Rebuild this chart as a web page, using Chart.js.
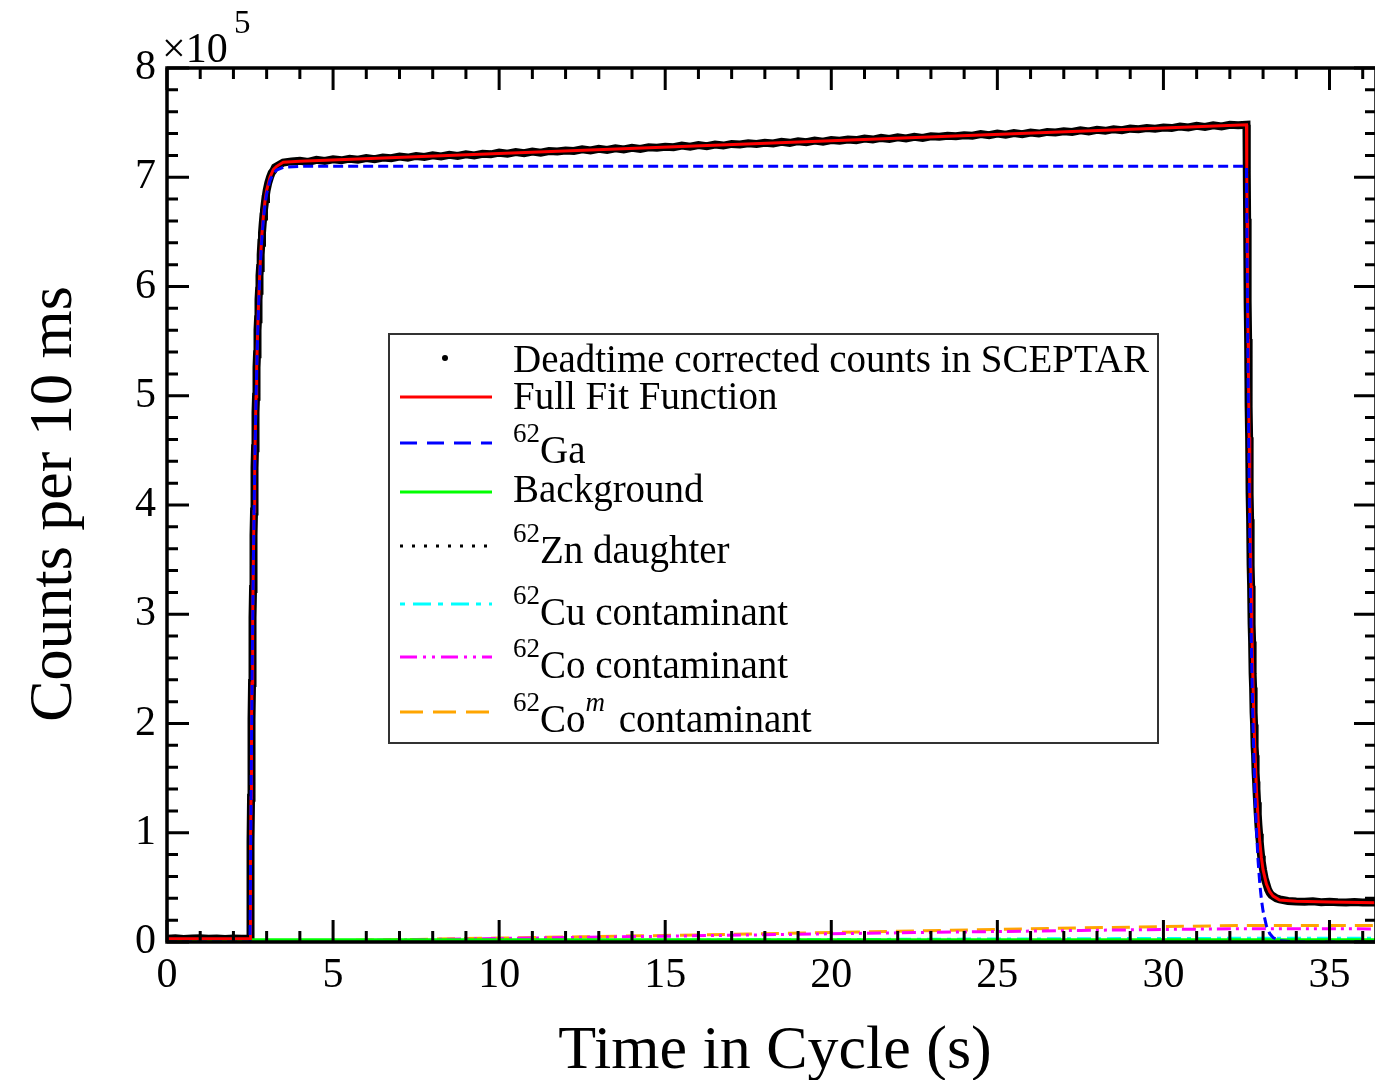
<!DOCTYPE html>
<html>
<head>
<meta charset="utf-8">
<script src="https://cdn.jsdelivr.net/npm/chart.js@4.4.0/dist/chart.umd.min.js"></script>
<style>
  html, body { margin: 0; padding: 0; background: #fff; overflow: hidden; }
  #wrap { position: relative; width: 1400px; height: 1080px; }
  canvas { display: block; }
</style>
</head>
<body>
<div id="wrap"><canvas id="decayChart" width="1400" height="1080"></canvas></div>
<script>
// counts per 10 ms, in units of 1e5

// measured data (deadtime corrected, SCEPTAR)
const preTime = [0, 0.25, 0.5, 0.75, 1, 1.25, 1.5, 1.75, 2, 2.25, 2.49];
const preCounts = [0.03, 0.034, 0.028, 0.031, 0.035, 0.029, 0.032, 0.027, 0.033, 0.03, 0.031];

const riseTime = [
  2.50, 2.51, 2.52, 2.53, 2.54, 2.55, 2.56, 2.57, 2.58, 2.59,
  2.60, 2.61, 2.62, 2.63, 2.64, 2.65, 2.66, 2.67, 2.68, 2.69,
  2.70, 2.71, 2.72, 2.73, 2.74, 2.75, 2.76, 2.77, 2.78, 2.79, 2.80,
  2.82, 2.84, 2.86, 2.88, 2.90, 2.92, 2.94, 2.96, 2.98, 3.00,
  3.05, 3.10, 3.15, 3.20
];
const riseCounts = [
  0.03, 0.49, 0.92, 1.32, 1.69, 2.04, 2.37, 2.68, 2.97, 3.23,
  3.49, 3.72, 3.94, 4.15, 4.34, 4.52, 4.69, 4.85, 4.99, 5.13,
  5.26, 5.38, 5.49, 5.60, 5.70, 5.79, 5.88, 5.96, 6.03, 6.10, 6.17,
  6.29, 6.40, 6.49, 6.57, 6.64, 6.70, 6.75, 6.80, 6.84, 6.88,
  6.95, 7.00, 7.04, 7.06
];

const plateauTime = [
  3.25, 3.5, 3.75,
  4, 4.25, 4.5, 4.75, 5, 5.25, 5.5, 5.75, 6, 6.25, 6.5, 6.75,
  7, 7.25, 7.5, 7.75, 8, 8.25, 8.5, 8.75, 9, 9.25, 9.5, 9.75,
  10, 10.25, 10.5, 10.75, 11, 11.25, 11.5, 11.75, 12, 12.25, 12.5, 12.75,
  13, 13.25, 13.5, 13.75, 14, 14.25, 14.5, 14.75, 15, 15.25, 15.5, 15.75,
  16, 16.25, 16.5, 16.75, 17, 17.25, 17.5, 17.75, 18, 18.25, 18.5, 18.75,
  19, 19.25, 19.5, 19.75, 20, 20.25, 20.5, 20.75, 21, 21.25, 21.5, 21.75,
  22, 22.25, 22.5, 22.75, 23, 23.25, 23.5, 23.75, 24, 24.25, 24.5, 24.75,
  25, 25.25, 25.5, 25.75, 26, 26.25, 26.5, 26.75, 27, 27.25, 27.5, 27.75,
  28, 28.25, 28.5, 28.75, 29, 29.25, 29.5, 29.75, 30, 30.25, 30.5, 30.75,
  31, 31.25, 31.5, 31.75, 32, 32.25, 32.5
];
const plateauCounts = [
  7.09, 7.135, 7.145,
  7.15, 7.14, 7.16, 7.15, 7.165, 7.155, 7.17, 7.16, 7.175, 7.165, 7.18, 7.175,
  7.19, 7.18, 7.195, 7.185, 7.20, 7.19, 7.205, 7.195, 7.21, 7.20, 7.215, 7.21,
  7.225, 7.215, 7.23, 7.22, 7.235, 7.225, 7.24, 7.235, 7.245, 7.24, 7.255, 7.245,
  7.26, 7.25, 7.265, 7.255, 7.27, 7.26, 7.275, 7.27, 7.28, 7.275, 7.29, 7.28,
  7.295, 7.285, 7.30, 7.29, 7.305, 7.30, 7.31, 7.305, 7.315, 7.31, 7.325, 7.315,
  7.33, 7.32, 7.335, 7.325, 7.34, 7.335, 7.345, 7.34, 7.355, 7.345, 7.36, 7.35,
  7.365, 7.355, 7.37, 7.36, 7.375, 7.37, 7.38, 7.375, 7.385, 7.38, 7.395, 7.385,
  7.40, 7.39, 7.405, 7.395, 7.41, 7.40, 7.415, 7.41, 7.42, 7.415, 7.43, 7.42,
  7.435, 7.425, 7.44, 7.43, 7.445, 7.44, 7.45, 7.445, 7.455, 7.45, 7.465, 7.455,
  7.47, 7.46, 7.475, 7.465, 7.48, 7.475, 7.48
];

const fallTime = [
  32.51, 32.52, 32.53, 32.54, 32.55, 32.56, 32.57, 32.58, 32.59, 32.60,
  32.61, 32.62, 32.63, 32.64, 32.65, 32.66, 32.67, 32.68, 32.69, 32.70,
  32.71, 32.72, 32.73, 32.74, 32.75, 32.76, 32.77, 32.78, 32.79, 32.80,
  32.82, 32.84, 32.86, 32.88, 32.90, 32.92, 32.94, 32.96, 32.98, 33.00,
  33.05, 33.10, 33.15, 33.20, 33.25, 33.30, 33.40, 33.50
];
const fallCounts = [
  7.04, 6.62, 6.23, 5.87, 5.52, 5.20, 4.90, 4.62, 4.35, 4.10,
  3.87, 3.65, 3.45, 3.26, 3.08, 2.91, 2.75, 2.60, 2.46, 2.33,
  2.21, 2.10, 1.99, 1.89, 1.79, 1.71, 1.62, 1.55, 1.47, 1.40,
  1.28, 1.17, 1.07, 0.99, 0.92, 0.85, 0.79, 0.74, 0.70, 0.66,
  0.58, 0.53, 0.48, 0.45, 0.43, 0.42, 0.40, 0.39
];

const tailTime = [33.75, 34, 34.25, 34.5, 34.75, 35, 35.25, 35.5, 35.75, 36, 36.25, 36.5];
const tailCounts = [0.375, 0.37, 0.368, 0.372, 0.365, 0.368, 0.364, 0.362, 0.366, 0.361, 0.363, 0.36];

// fit curves
const fitTime = [
  0, 2.5, 2.51, 2.52, 2.53, 2.54, 2.55, 2.56, 2.58, 2.6, 2.62, 2.64, 2.66, 2.68, 2.7,
  2.73, 2.76, 2.8, 2.85, 2.9, 2.95, 3.0, 3.1, 3.2, 3.3, 3.5, 4, 10, 20, 30, 32.5,
  32.51, 32.52, 32.53, 32.54, 32.55, 32.56, 32.58, 32.6, 32.62, 32.64, 32.66, 32.68, 32.7,
  32.73, 32.76, 32.8, 32.85, 32.9, 32.95, 33.0, 33.1, 33.2, 33.3, 33.5, 34, 35, 36.5
];
const fitFull = [
  0.03, 0.03, 0.49, 0.92, 1.32, 1.69, 2.04, 2.37, 2.97, 3.49, 3.94, 4.34, 4.69, 4.99, 5.26,
  5.60, 5.88, 6.17, 6.45, 6.64, 6.78, 6.88, 7.00, 7.07, 7.10, 7.137, 7.147, 7.218, 7.334, 7.451, 7.48,
  7.04, 6.62, 6.23, 5.87, 5.52, 5.20, 4.62, 4.10, 3.65, 3.26, 2.91, 2.60, 2.33,
  1.99, 1.71, 1.40, 1.12, 0.92, 0.77, 0.66, 0.53, 0.46, 0.42, 0.385, 0.372, 0.365, 0.358
];
const fitGa = [
  0, 0, 0.458, 0.886, 1.287, 1.662, 2.013, 2.341, 2.935, 3.455, 3.910, 4.308, 4.656, 4.961, 5.228,
  5.568, 5.845, 6.139, 6.411, 6.607, 6.746, 6.847, 6.970, 7.033, 7.066, 7.091, 7.10, 7.10, 7.10, 7.10, 7.10,
  6.656, 6.240, 5.850, 5.485, 5.142, 4.821, 4.237, 3.724, 3.273, 2.877, 2.529, 2.223, 1.954,
  1.610, 1.327, 1.025, 0.743, 0.538, 0.390, 0.282, 0.148, 0.077, 0.041, 0.011, 0, 0, 0
];

// slow components
const compTime = [0, 2.5, 5, 7.5, 10, 12.5, 15, 17.5, 20, 22.5, 25, 27.5, 30, 32.5, 34, 36.5];
const bgCounts = [0.02, 0.02, 0.02, 0.02, 0.02, 0.02, 0.02, 0.02, 0.02, 0.02, 0.02, 0.02, 0.02, 0.02, 0.02, 0.02];
const znCounts = [0, 0, 0.001, 0.002, 0.003, 0.004, 0.005, 0.006, 0.007, 0.008, 0.009, 0.010, 0.011, 0.012, 0.012, 0.012];
const cuCounts = [0, 0, 0.004, 0.007, 0.010, 0.013, 0.016, 0.019, 0.022, 0.025, 0.027, 0.030, 0.032, 0.034, 0.034, 0.034];
const coCounts = [0, 0, 0.010, 0.021, 0.032, 0.043, 0.053, 0.064, 0.075, 0.086, 0.096, 0.106, 0.115, 0.122, 0.121, 0.120];
const comCounts = [0, 0, 0.012, 0.024, 0.036, 0.048, 0.060, 0.073, 0.087, 0.101, 0.116, 0.129, 0.141, 0.152, 0.152, 0.151];

const xTicks = { min: 0, max: 36.4, step: 5 };
const yTicks = { min: 0, max: 8, step: 1 };

const FONT = '"Liberation Serif", "Times New Roman", serif';

const toXY = (xs, ys) => xs.map((x, i) => ({ x: x, y: ys[i] }));

const measured = [
  ...toXY(preTime, preCounts),
  ...toXY(riseTime, riseCounts),
  ...toXY(plateauTime, plateauCounts),
  ...toXY(fallTime, fallCounts),
  ...toXY(tailTime, tailCounts)
];

const curve = (label, data, color, width, dash, order) => ({
  label: label,
  data: data,
  showLine: true,
  borderColor: color,
  borderWidth: width,
  borderDash: dash,
  pointRadius: 0,
  fill: false,
  order: order
});

const datasets = [
  curve('62Ga', toXY(fitTime, fitGa), '#0000ff', 3, [10, 5], 1),
  curve('Full Fit Function', toXY(fitTime, fitFull), '#ff0000', 3, [], 2),
  curve('Background', toXY(compTime, bgCounts), '#00ff00', 3, [], 3),
  curve('62Zn daughter', toXY(compTime, znCounts), '#000000', 2, [2, 6], 4),
  curve('62Cu contaminant', toXY(compTime, cuCounts), '#00ffff', 3, [4, 6, 14, 6], 5),
  curve('62Co contaminant', toXY(compTime, coCounts), '#ff00ff', 3, [14, 5, 3, 5, 3, 5], 6),
  curve('62Com contaminant', toXY(compTime, comCounts), '#ffa500', 3, [18, 9], 7),
  {
    label: 'Deadtime corrected counts in SCEPTAR',
    data: measured,
    showLine: true,
    borderColor: '#000',
    borderWidth: 8,
    pointRadius: 3,
    pointBackgroundColor: '#000',
    pointBorderWidth: 0,
    order: 10
  }
];

// legend rows: sample style + rich text pieces
const legendRows = [
  { kind: 'dot', y: 358, base: 372, parts: [{ t: 'Deadtime corrected counts in SCEPTAR' }] },
  { color: '#ff0000', dash: [], lw: 3, y: 397, base: 409, parts: [{ t: 'Full Fit Function' }] },
  { color: '#0000ff', dash: [17, 10], lw: 3, y: 443, base: 463, parts: [{ t: '62', sup: true }, { t: 'Ga' }] },
  { color: '#00ff00', dash: [], lw: 3, y: 492, base: 502, parts: [{ t: 'Background' }] },
  { color: '#000000', dash: [3, 9], lw: 3, y: 546, base: 563, parts: [{ t: '62', sup: true }, { t: 'Zn daughter' }] },
  { color: '#00ffff', dash: [5, 8, 18, 7], lw: 3, y: 604, base: 625, parts: [{ t: '62', sup: true }, { t: 'Cu contaminant' }] },
  { color: '#ff00ff', dash: [17, 6, 3, 6, 3, 6], lw: 3, y: 657, base: 678, parts: [{ t: '62', sup: true }, { t: 'Co contaminant' }] },
  { color: '#ffa500', dash: [23, 10], lw: 3, y: 712, base: 732, parts: [{ t: '62', sup: true }, { t: 'Co' }, { t: 'm', sup: true, italic: true }, { t: ' contaminant' }] }
];

function drawRich(ctx, x, base, parts) {
  parts.forEach(p => {
    ctx.font = (p.italic ? 'italic ' : '') + (p.sup ? '27px ' : '39px ') + FONT;
    const yy = p.sup ? base - 21 : base;
    ctx.fillText(p.t, x, yy);
    x += ctx.measureText(p.t).width + (p.italic ? 4 : 0);
  });
}

const frameTicks = {
  id: 'frameTicks',
  afterDatasetsDraw(chart) {
    const { ctx, chartArea: a, scales: { x, y } } = chart;
    ctx.save();
    ctx.strokeStyle = '#000';
    ctx.lineWidth = 3;
    ctx.beginPath();
    for (let i = 0; i <= 36; i++) {
      const px = x.getPixelForValue(i);
      const len = i % 5 === 0 ? 22 : 11;
      ctx.moveTo(px, a.bottom); ctx.lineTo(px, a.bottom - len);
      ctx.moveTo(px, a.top); ctx.lineTo(px, a.top + len);
    }
    for (let i = 0; i <= 40; i++) {
      const py = y.getPixelForValue(i / 5);
      const len = i % 5 === 0 ? 22 : 11;
      ctx.moveTo(a.left, py); ctx.lineTo(a.left + len, py);
      ctx.moveTo(a.right, py); ctx.lineTo(a.right - len, py);
    }
    ctx.stroke();
    ctx.lineWidth = 3.5;
    ctx.strokeRect(a.left, a.top, a.right - a.left, a.bottom - a.top);
    ctx.restore();
  }
};

const annotations = {
  id: 'annotations',
  afterDraw(chart) {
    const ctx = chart.ctx;
    ctx.save();
    ctx.fillStyle = '#000';
    ctx.textBaseline = 'alphabetic';

    // exponent label
    ctx.textAlign = 'left';
    ctx.font = '42px ' + FONT;
    ctx.fillText('\u00d710', 162, 62);
    ctx.font = '33px ' + FONT;
    ctx.fillText('5', 234, 33);

    // axis titles
    ctx.font = '62px ' + FONT;
    ctx.textAlign = 'center';
    ctx.fillText('Time in Cycle (s)', 775, 1068);
    ctx.save();
    ctx.translate(71, 504);
    ctx.rotate(-Math.PI / 2);
    ctx.fillText('Counts per 10 ms', 0, 0);
    ctx.restore();

    // legend
    ctx.fillStyle = '#fff';
    ctx.fillRect(389, 334, 769, 409);
    ctx.strokeStyle = '#333';
    ctx.lineWidth = 2;
    ctx.strokeRect(389, 334, 769, 409);
    ctx.textAlign = 'left';
    legendRows.forEach(row => {
      if (row.kind === 'dot') {
        ctx.fillStyle = '#000';
        ctx.beginPath();
        ctx.arc(445, row.y, 3, 0, Math.PI * 2);
        ctx.fill();
      } else {
        ctx.strokeStyle = row.color;
        ctx.lineWidth = row.lw;
        ctx.setLineDash(row.dash);
        ctx.beginPath();
        ctx.moveTo(400, row.y);
        ctx.lineTo(492, row.y);
        ctx.stroke();
        ctx.setLineDash([]);
      }
      ctx.fillStyle = '#000';
      drawRich(ctx, 513, row.base, row.parts);
    });
    ctx.restore();
  }
};

new Chart(document.getElementById('decayChart'), {
  type: 'scatter',
  data: { datasets: datasets },
  options: {
    responsive: false,
    animation: false,
    devicePixelRatio: 1,
    layout: { padding: { left: 0, right: 24, top: 68, bottom: 0 } },
    plugins: { legend: { display: false }, tooltip: { enabled: false } },
    scales: {
      x: {
        type: 'linear',
        position: 'bottom',
        min: xTicks.min,
        max: xTicks.max,
        afterFit: s => { s.height = 138; },
        grid: { display: false, drawTicks: false },
        border: { display: false },
        ticks: {
          stepSize: xTicks.step,
          includeBounds: false,
          maxRotation: 0,
          autoSkip: false,
          padding: 9,
          color: '#000',
          font: { family: FONT, size: 42 }
        }
      },
      y: {
        type: 'linear',
        min: yTicks.min,
        max: yTicks.max,
        afterFit: s => { s.width = 167; },
        grid: { display: false, drawTicks: false },
        border: { display: false },
        ticks: {
          stepSize: yTicks.step,
          autoSkip: false,
          padding: 11,
          color: '#000',
          font: { family: FONT, size: 42 }
        }
      }
    }
  },
  plugins: [frameTicks, annotations]
});
</script>
</body>
</html>
